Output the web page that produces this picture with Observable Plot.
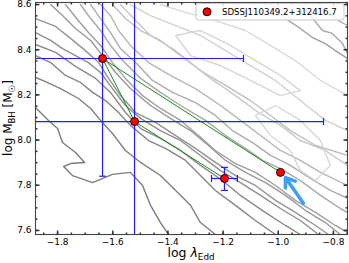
<!DOCTYPE html>
<html><head><meta charset="utf-8">
<script src="https://cdn.jsdelivr.net/npm/d3@7"></script>
<script src="https://cdn.jsdelivr.net/npm/@observablehq/plot@0.6"></script>
<style>body{margin:0;background:#fff;} svg{font-family:"DejaVu Sans",sans-serif;}</style>
</head><body><div id="chart"></div>
<script>
// ---- data ----
const logLambda = [-1.637, -1.521, -1.195, -0.992];
const logMBH    = [8.361, 8.082, 7.830, 7.857];
const xErrLo = [-2.0, -2.0, -1.242];
const xErrHi = [-1.126, -0.836, -1.148];
const yErrLo = [7.84, 7.4, 7.777];
const yErrHi = [8.8, 8.8, 7.879];
const linkFrom = [0, 0, 1];
const linkTo   = [1, 3, 2];
const arrowTail = [-0.909, 7.720];
const arrowHead = [-0.974, 7.834];
const legendLabel = "SDSSJ110349.2+312416.7";
const xTicks = [-1.8, -1.6, -1.4, -1.2, -1.0, -0.8];
const yTicks = [7.6, 7.8, 8.0, 8.2, 8.4, 8.6];

const contourShades = [
 "#7c7c7c","#808080","#858585","#8a8a8a","#8e8e8e","#939393","#999999","#9f9f9f","#a6a6a6","#adadad",
 "#b6b6b6","#bfbfbf","#c8c8c8","#d2d2d2","#dadada","#d6d6d6","#9e9e9e","#a8a8a8","#b2b2b2","#d8d8d8"];
const contourLines = [
 [[-1.880,8.144],[-1.833,8.087],[-1.800,8.051],[-1.782,7.989],[-1.735,7.945],[-1.702,7.901],[-1.753,7.896],[-1.778,7.883],[-1.746,7.843],[-1.673,7.812],[-1.601,7.848],[-1.536,7.857],[-1.492,7.799],[-1.463,7.711],[-1.427,7.635],[-1.398,7.582]],
 [[-1.880,8.277],[-1.854,8.264],[-1.789,8.228],[-1.724,8.184],[-1.680,8.140],[-1.644,8.087],[-1.601,8.029],[-1.554,7.954],[-1.499,7.901],[-1.427,7.843],[-1.372,7.777],[-1.318,7.711],[-1.282,7.635],[-1.228,7.582]],
 [[-1.880,8.374],[-1.825,8.343],[-1.771,8.286],[-1.717,8.255],[-1.673,8.211],[-1.626,8.175],[-1.579,8.122],[-1.536,8.065],[-1.470,7.998],[-1.409,7.963],[-1.336,7.910],[-1.282,7.843],[-1.228,7.777],[-1.155,7.711],[-1.083,7.644],[-1.010,7.582]],
 [[-1.880,8.423],[-1.807,8.388],[-1.735,8.326],[-1.662,8.273],[-1.608,8.211],[-1.554,8.122],[-1.499,8.051],[-1.427,8.007],[-1.354,7.954],[-1.282,7.888],[-1.202,7.821],[-1.137,7.755],[-1.057,7.688],[-0.974,7.622],[-0.920,7.582]],
 [[-1.880,8.476],[-1.825,8.441],[-1.782,8.405],[-1.735,8.374],[-1.688,8.343],[-1.644,8.299],[-1.601,8.228],[-1.554,8.153],[-1.499,8.096],[-1.427,8.042],[-1.354,7.998],[-1.282,7.932],[-1.209,7.865],[-1.137,7.812],[-1.064,7.755],[-0.992,7.697],[-0.920,7.644],[-0.854,7.582]],
 [[-1.880,8.538],[-1.807,8.503],[-1.753,8.450],[-1.699,8.396],[-1.651,8.343],[-1.615,8.273],[-1.572,8.197],[-1.517,8.122],[-1.445,8.078],[-1.372,8.020],[-1.300,7.963],[-1.228,7.901],[-1.155,7.843],[-1.083,7.799],[-1.010,7.733],[-0.938,7.680],[-0.865,7.622],[-0.818,7.582]],
 [[-1.825,8.600],[-1.782,8.551],[-1.735,8.494],[-1.680,8.441],[-1.637,8.374],[-1.590,8.299],[-1.536,8.228],[-1.463,8.153],[-1.391,8.096],[-1.318,8.042],[-1.253,7.976],[-1.191,7.910],[-1.119,7.857],[-1.046,7.812],[-0.974,7.755],[-0.901,7.688],[-0.829,7.635],[-0.775,7.582]],
 [[-1.771,8.600],[-1.731,8.538],[-1.688,8.476],[-1.644,8.419],[-1.601,8.343],[-1.554,8.273],[-1.492,8.197],[-1.427,8.140],[-1.354,8.087],[-1.289,8.020],[-1.228,7.954],[-1.155,7.896],[-1.083,7.857],[-1.010,7.799],[-0.938,7.733],[-0.865,7.680],[-0.793,7.622],[-0.749,7.591]],
 [[-1.717,8.600],[-1.680,8.538],[-1.644,8.485],[-1.608,8.419],[-1.564,8.352],[-1.499,8.273],[-1.427,8.211],[-1.354,8.153],[-1.264,8.087],[-1.191,8.020],[-1.119,7.963],[-1.057,7.910],[-0.992,7.874],[-0.920,7.821],[-0.847,7.755],[-0.775,7.697],[-0.749,7.680]],
 [[-1.680,8.600],[-1.644,8.538],[-1.608,8.476],[-1.572,8.405],[-1.517,8.343],[-1.456,8.264],[-1.383,8.211],[-1.300,8.166],[-1.228,8.109],[-1.166,8.042],[-1.093,7.989],[-1.028,7.932],[-0.956,7.888],[-0.883,7.830],[-0.811,7.777],[-0.749,7.742]],
 [[-1.644,8.600],[-1.608,8.551],[-1.579,8.485],[-1.536,8.419],[-1.470,8.343],[-1.391,8.286],[-1.300,8.228],[-1.209,8.153],[-1.137,8.087],[-1.064,8.020],[-0.992,7.954],[-0.920,7.910],[-0.847,7.857],[-0.749,7.799]],
 [[-1.601,8.600],[-1.554,8.538],[-1.499,8.485],[-1.427,8.441],[-1.354,8.374],[-1.282,8.308],[-1.191,8.242],[-1.101,8.175],[-1.028,8.109],[-0.956,8.042],[-0.865,7.976],[-0.749,7.932]],
 [[-1.572,8.600],[-1.517,8.529],[-1.463,8.463],[-1.383,8.405],[-1.318,8.343],[-1.246,8.273],[-1.155,8.197],[-1.072,8.122],[-0.992,8.065],[-0.920,7.998],[-0.829,7.954],[-0.749,7.888]],
 [[-1.536,8.600],[-1.463,8.551],[-1.372,8.507],[-1.282,8.463],[-1.191,8.396],[-1.101,8.330],[-1.010,8.264],[-0.920,8.175],[-0.829,8.087],[-0.749,8.042]],
 [[-1.427,8.600],[-1.336,8.565],[-1.228,8.529],[-1.119,8.485],[-1.028,8.419],[-0.938,8.352],[-0.847,8.264],[-0.749,8.197]],
 [[-1.372,8.463],[-1.282,8.485],[-1.173,8.419],[-1.083,8.352],[-0.992,8.286],[-0.920,8.219],[-0.992,8.197],[-1.101,8.264],[-1.209,8.330],[-1.318,8.374],[-1.372,8.463]],
 [[-1.028,8.600],[-0.974,8.538],[-0.920,8.494],[-0.876,8.454],[-0.829,8.427],[-0.793,8.396],[-0.749,8.361]],
 [[-0.920,8.600],[-0.883,8.551],[-0.840,8.485],[-0.804,8.472],[-0.767,8.427],[-0.749,8.383]],
 [[-0.847,8.600],[-0.818,8.565],[-0.782,8.529],[-0.749,8.507]],
 [[-1.083,8.109],[-1.010,8.153],[-0.920,8.087],[-0.847,7.998],[-0.811,7.888],[-0.865,7.821],[-0.920,7.865],[-0.956,7.954],[-1.028,8.020],[-1.083,8.109]]
];

// ---- tables built from the arrays ----
const contourRows = contourLines.flatMap((pts, i) => pts.map(([x, y]) => ({x, y, id: i, c: contourShades[i]})));
const points = logLambda.map((x, i) => ({x, y: logMBH[i]}));
const links = linkFrom.map((a, i) => ({x1: logLambda[a], y1: logMBH[a], x2: logLambda[linkTo[i]], y2: logMBH[linkTo[i]]}));
const errSegs = xErrLo.flatMap((_, i) => [
  {x1: xErrLo[i], x2: xErrHi[i], y1: logMBH[i], y2: logMBH[i]},
  {x1: logLambda[i], x2: logLambda[i], y1: yErrLo[i], y2: yErrHi[i]}
]);
const xCaps = xErrLo.flatMap((_, i) => [{x: xErrLo[i], y: logMBH[i]}, {x: xErrHi[i], y: logMBH[i]}]);
const yCaps = yErrLo.flatMap((_, i) => [{x: logLambda[i], y: yErrLo[i]}, {x: logLambda[i], y: yErrHi[i]}]);
const xMinor = d3.range(-1.85, -0.74, 0.05);
const yMinor = d3.range(7.6, 8.62, 0.05);

const seg = (dx0, dy0, dx1, dy1) => ({draw(ctx, size) { const r = Math.sqrt(size / Math.PI); ctx.moveTo(dx0 * r, dy0 * r); ctx.lineTo(dx1 * r, dy1 * r); }});
const fmt = d => d.toFixed(1).replace("-", "\u2212");
const tickColor = "#333";
const errBlue = "#2020ff";

const chart = Plot.plot({
  width: 349, height: 263,
  marginLeft: 35, marginRight: 2, marginTop: 2, marginBottom: 29,
  x: {domain: [-1.88, -0.749]},
  y: {domain: [7.582, 8.609]},
  style: {fontFamily: "DejaVu Sans", fontSize: "9px", background: "white", color: "black"},
  marks: [
    Plot.line(contourRows, {x: "x", y: "y", z: "id", stroke: "c", strokeWidth: 1.4, clip: true}),
    Plot.link(links, {x1: "x1", y1: "y1", x2: "x2", y2: "y2", stroke: "#1a8a1a", strokeWidth: 1}),
    Plot.link(errSegs, {x1: "x1", y1: "y1", x2: "x2", y2: "y2", stroke: errBlue, strokeWidth: 1.2, clip: true}),
    Plot.dot(xCaps, {x: "x", y: "y", symbol: seg(0, -1, 0, 1), r: 3.5, stroke: errBlue, strokeWidth: 1.2, fill: "none", clip: true}),
    Plot.dot(yCaps, {x: "x", y: "y", symbol: seg(-1, 0, 1, 0), r: 3.5, stroke: errBlue, strokeWidth: 1.2, fill: "none", clip: true}),
    Plot.arrow([{x1: arrowTail[0], y1: arrowTail[1], x2: arrowHead[0], y2: arrowHead[1]}], {x1: "x1", y1: "y1", x2: "x2", y2: "y2", stroke: "#3f9ef5", strokeWidth: 3.5, headLength: 10, headAngle: 70}),
    Plot.dot(points, {x: "x", y: "y", r: 4, fill: "#ff0000", stroke: "black", strokeWidth: 0.9}),
    Plot.frame({stroke: "#444", strokeWidth: 1.1}),
    // inward ticks on four sides
    Plot.dot(xTicks, {x: d => d, frameAnchor: "bottom", symbol: seg(0, 0, 0, -1), r: 4, stroke: tickColor, fill: "none"}),
    Plot.dot(xTicks, {x: d => d, frameAnchor: "top", symbol: seg(0, 0, 0, 1), r: 4, stroke: tickColor, fill: "none"}),
    Plot.dot(xMinor, {x: d => d, frameAnchor: "bottom", symbol: seg(0, 0, 0, -1), r: 2, stroke: tickColor, fill: "none"}),
    Plot.dot(xMinor, {x: d => d, frameAnchor: "top", symbol: seg(0, 0, 0, 1), r: 2, stroke: tickColor, fill: "none"}),
    Plot.dot(yTicks, {y: d => d, frameAnchor: "left", symbol: seg(0, 0, 1, 0), r: 4, stroke: tickColor, fill: "none"}),
    Plot.dot(yTicks, {y: d => d, frameAnchor: "right", symbol: seg(0, 0, -1, 0), r: 4, stroke: tickColor, fill: "none"}),
    Plot.dot(yMinor, {y: d => d, frameAnchor: "left", symbol: seg(0, 0, 1, 0), r: 2, stroke: tickColor, fill: "none"}),
    Plot.dot(yMinor, {y: d => d, frameAnchor: "right", symbol: seg(0, 0, -1, 0), r: 2, stroke: tickColor, fill: "none"}),
    Plot.axisX({ticks: xTicks, tickSize: 0, tickPadding: 4, tickFormat: fmt, label: null}),
    Plot.axisY({ticks: yTicks, tickSize: 0, tickPadding: 4, tickFormat: fmt, label: null})
  ]
});
document.getElementById("chart").appendChild(chart);

// axis titles and legend
const svg = d3.select(chart);
const xl = svg.append("text").attr("x", 191).attr("y", 257).attr("text-anchor", "middle").attr("font-size", 12.5).attr("fill", "black");
xl.append("tspan").text("log ");
xl.append("tspan").attr("font-style", "italic").text("\u03bb");
xl.append("tspan").attr("font-size", 8.8).attr("dy", 3).text("Edd");
const yl = svg.append("text").attr("transform", "translate(11.5,118) rotate(-90)").attr("text-anchor", "middle").attr("font-size", 12).attr("fill", "black");
yl.append("tspan").text("log M");
yl.append("tspan").attr("font-size", 8.5).attr("dy", 3).text("BH");
yl.append("tspan").attr("dy", -3).text(" [M");
yl.append("tspan").attr("font-size", 8.5).attr("dy", 3).text("\u2609");
yl.append("tspan").attr("dy", -3).text("]");

const lg = svg.append("g");
lg.append("rect").attr("x", 196).attr("y", 3.5).attr("width", 148).attr("height", 16.5).attr("rx", 2.5).attr("fill", "white").attr("fill-opacity", 0.85).attr("stroke", "#c8c8c8");
lg.append("circle").attr("cx", 207).attr("cy", 11.8).attr("r", 4).attr("fill", "#ff0000").attr("stroke", "black").attr("stroke-width", 0.9);
lg.append("text").attr("x", 222).attr("y", 15).attr("text-anchor", "start").attr("font-size", 8.6).attr("fill", "black").text(legendLabel);
</script>
</body></html>
